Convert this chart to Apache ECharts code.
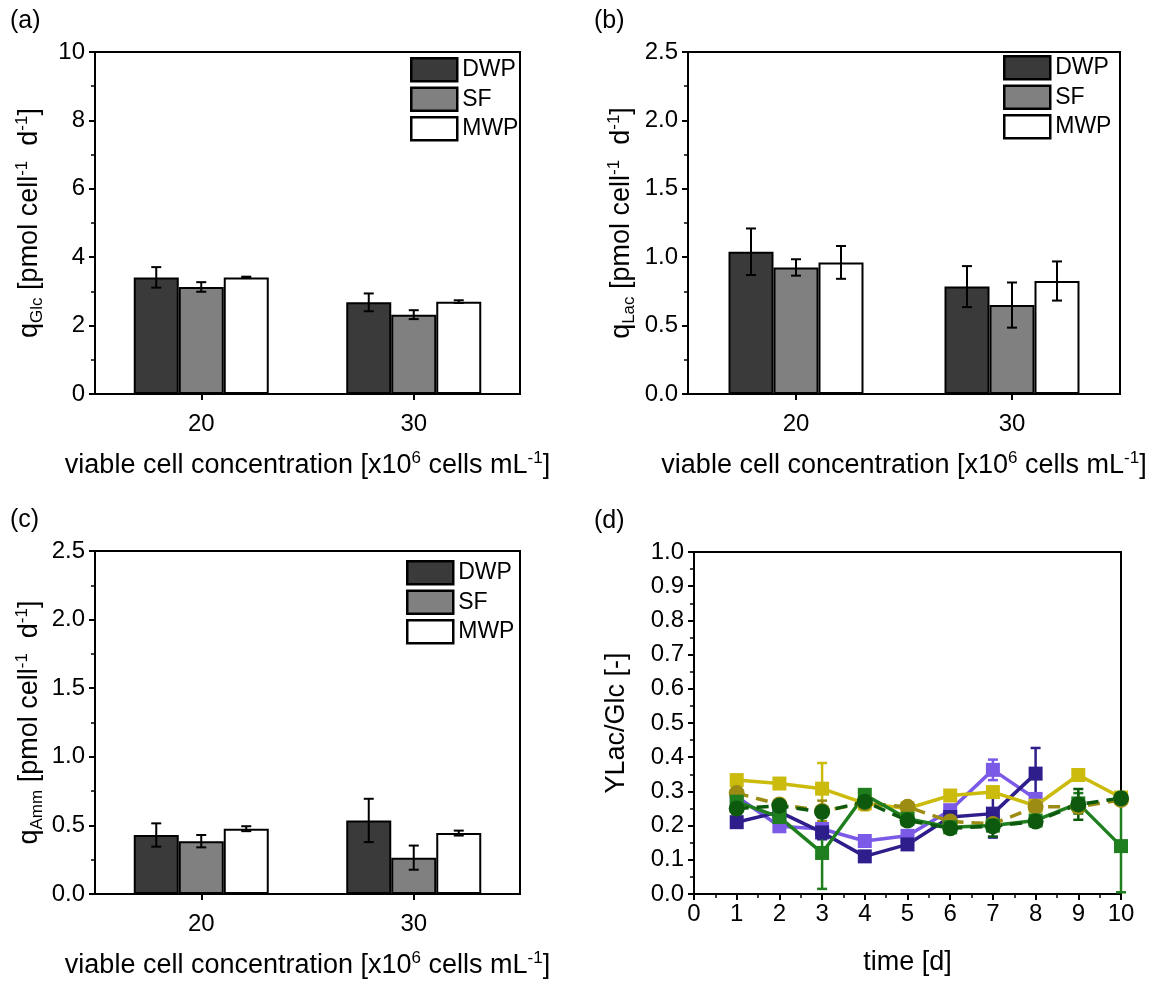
<!DOCTYPE html>
<html>
<head>
<meta charset="utf-8">
<script src="https://cdn.jsdelivr.net/npm/echarts@6/dist/echarts.min.js"></script>
<style>
  html, body { margin: 0; padding: 0; background: #fff; }
  #main { width: 1156px; height: 984px; }
</style>
</head>
<body>
<div id="main"></div>
<script>
// ---- data ----
const concentrations = ['20', '30'];
const groups = ['DWP', 'SF', 'MWP'];

// (a) specific glucose uptake rate, pmol cell-1 d-1
const qGlcDWP = [3.41, 2.68];
const qGlcDWPErr = [0.30, 0.26];
const qGlcSF = [3.13, 2.32];
const qGlcSFErr = [0.14, 0.13];
const qGlcMWP = [3.41, 2.70];
const qGlcMWPErr = [0.02, 0.04];

// (b) specific lactate production rate
const qLacDWP = [1.04, 0.785];
const qLacDWPErr = [0.17, 0.15];
const qLacSF = [0.925, 0.65];
const qLacSFErr = [0.06, 0.165];
const qLacMWP = [0.962, 0.826];
const qLacMWPErr = [0.12, 0.143];

// (c) specific ammonium production rate
const qAmmDWP = [0.43, 0.536];
const qAmmDWPErr = [0.085, 0.158];
const qAmmSF = [0.385, 0.265];
const qAmmSFErr = [0.045, 0.088];
const qAmmMWP = [0.476, 0.444];
const qAmmMWPErr = [0.018, 0.018];

// (d) lactate/glucose yield over cultivation time
const days = [1, 2, 3, 4, 5, 6, 7, 8, 9, 10];
const yieldRun1 = [0.333, 0.323, 0.308, 0.265, 0.250, 0.288, 0.298, 0.258, 0.348, 0.282];
const yieldRun1Err = [0.015, 0.012, 0.075, 0.02, 0.015, 0.012, 0.015, 0.015, 0.015, 0.012];
const yieldRun2 = [0.295, 0.262, 0.243, 0.265, 0.255, 0.212, 0.205, 0.255, 0.255, 0.275];
const yieldRun2Err = [0.015, 0.012, 0.03, 0.012, 0.012, 0.01, 0.012, 0.012, 0.012, 0.012];
const yieldRun3 = [0.285, 0.198, 0.190, 0.155, 0.170, 0.245, 0.363, 0.278];
const yieldRun3Err = [0.01, 0.012, 0.012, 0.01, 0.01, 0.01, 0.03, 0.015];
const yieldRun4 = [0.210, 0.240, 0.180, 0.110, 0.145, 0.225, 0.235, 0.352];
const yieldRun4Err = [0.012, 0.01, 0.02, 0.015, 0.01, 0.01, 0.07, 0.075];
const yieldRun5 = [0.270, 0.225, 0.120, 0.290, 0.220, 0.195, 0.200, 0.215, 0.265, 0.140];
const yieldRun5Err = [0.03, 0.015, 0.105, 0.015, 0.015, 0.01, 0.01, 0.015, 0.03, 0.135];
const yieldRun6 = [0.250, 0.258, 0.240, 0.270, 0.215, 0.192, 0.198, 0.212, 0.262, 0.280];
const yieldRun6Err = [0.015, 0.01, 0.015, 0.01, 0.01, 0.01, 0.03, 0.01, 0.045, 0.01];

// ---- styling helpers ----
const FONT = 'Liberation Sans, Arial, sans-serif';
const TICK_FS = 24;
const NAME_FS = 27;
const SMALL_FS = 17;
const BAR_W = 45;
const barFill = { DWP: '#3a3a3a', SF: '#808080', MWP: '#ffffff' };

const nameRich = {
  n: { fontSize: NAME_FS, fontFamily: FONT, color: '#000', lineHeight: 32 },
  s: { fontSize: SMALL_FS, fontFamily: FONT, color: '#000', lineHeight: 17, verticalAlign: 'bottom' },
  p: { fontSize: SMALL_FS, fontFamily: FONT, color: '#000', lineHeight: 17, verticalAlign: 'top' }
};

const blackLine = { color: '#000', width: 2 };

function valueYAxis(grid, max, interval, name, gap, decimals) {
  return {
    gridIndex: grid, type: 'value', min: 0, max: max, interval: interval,
    axisLine: { show: true, lineStyle: blackLine },
    axisTick: { show: true, inside: false, length: 6, lineStyle: blackLine },
    minorTick: { show: true, splitNumber: 2, length: 4, lineStyle: { color: '#000', width: 1.5 } },
    splitLine: { show: false },
    axisLabel: {
      color: '#000', fontSize: TICK_FS, fontFamily: FONT, margin: 10,
      formatter: v => decimals ? v.toFixed(decimals) : String(v)
    },
    name: name, nameLocation: 'middle', nameGap: gap, nameRotate: 90,
    nameMoveOverlap: false,
    nameTextStyle: { rich: nameRich }
  };
}

function categoryXAxis(grid, name) {
  return {
    gridIndex: grid, type: 'category', data: concentrations,
    axisLine: { show: true, lineStyle: blackLine },
    axisTick: { show: true, alignWithLabel: true, inside: false, length: 6, lineStyle: blackLine },
    axisLabel: { color: '#000', fontSize: TICK_FS, fontFamily: FONT, margin: 18 },
    name: name, nameLocation: 'middle', nameGap: 56, nameMoveOverlap: false,
    nameTextStyle: { rich: nameRich }
  };
}

function errRenderer(offsetIndex, color, cap, width) {
  return function (params, api) {
    const x = api.value(0), m = api.value(1), e = api.value(2);
    const hi = api.coord([x, m + e]);
    const lo = api.coord([x, m - e]);
    const cx = hi[0] + offsetIndex * BAR_W;
    const st = { stroke: color, lineWidth: width };
    return {
      type: 'group',
      children: [
        { type: 'line', shape: { x1: cx, y1: hi[1], x2: cx, y2: lo[1] }, style: st },
        { type: 'line', shape: { x1: cx - cap, y1: hi[1], x2: cx + cap, y2: hi[1] }, style: st },
        { type: 'line', shape: { x1: cx - cap, y1: lo[1], x2: cx + cap, y2: lo[1] }, style: st }
      ]
    };
  };
}

function barSeries(grid, means, errs) {
  const out = [];
  groups.forEach((g, i) => {
    out.push({
      type: 'bar', name: g, xAxisIndex: grid, yAxisIndex: grid,
      data: means[i], barWidth: BAR_W, barGap: '0%',
      itemStyle: { color: barFill[g], borderColor: '#000', borderWidth: 2 },
      emphasis: { disabled: true }
    });
  });
  groups.forEach((g, i) => {
    out.push({
      type: 'custom', name: g + ' sd', xAxisIndex: grid, yAxisIndex: grid, z: 5,
      renderItem: errRenderer(i - 1, '#000', 5, 2),
      data: means[i].map((m, k) => [k, m, errs[i][k]])
    });
  });
  return out;
}

function barLegend(left, top) {
  return {
    data: groups, orient: 'vertical', left: left, top: top, padding: 0,
    icon: 'rect', itemWidth: 46, itemHeight: 23, itemGap: 4,
    itemStyle: { borderColor: '#000', borderWidth: 2.5 },
    textStyle: { color: '#000', fontSize: 23, fontFamily: FONT },
    selectedMode: false
  };
}

// (d) line series definitions
const yieldRuns = [
  { data: yieldRun3, err: yieldRun3Err, color: '#7a5ae6', symbol: 'rect', dash: 'solid' },
  { data: yieldRun4, err: yieldRun4Err, color: '#2e1e8c', symbol: 'rect', dash: 'solid' },
  { data: yieldRun1, err: yieldRun1Err, color: '#cbbb0c', symbol: 'rect', dash: 'solid' },
  { data: yieldRun2, err: yieldRun2Err, color: '#9c8c14', symbol: 'circle', dash: [12, 8] },
  { data: yieldRun5, err: yieldRun5Err, color: '#1f7f1f', symbol: 'rect', dash: 'solid' },
  { data: yieldRun6, err: yieldRun6Err, color: '#0d5a0e', symbol: 'circle', dash: [12, 8] }
];

const yieldSeries = [];
yieldRuns.forEach((r, i) => {
  yieldSeries.push({
    type: 'custom', name: 'run' + i + ' sd', xAxisIndex: 3, yAxisIndex: 3, z: 3,
    renderItem: errRenderer(0, r.color, 5, 2.5),
    data: r.data.map((v, k) => [days[k], v, r.err[k]])
  });
  yieldSeries.push({
    type: 'line', name: 'run' + i, xAxisIndex: 3, yAxisIndex: 3, z: 4,
    data: r.data.map((v, k) => [days[k], v]),
    symbol: r.symbol, symbolSize: r.symbol === 'rect' ? 14 : 16,
    lineStyle: { color: r.color, width: 3.5, type: r.dash },
    itemStyle: { color: r.color },
    emphasis: { disabled: true }
  });
});

const chart = echarts.init(document.getElementById('main'), null, { renderer: 'canvas' });

const gridBase = { show: true, borderColor: '#000', borderWidth: 2, backgroundColor: 'transparent', containLabel: false, outerBoundsMode: 'none' };

chart.setOption({
  animation: false,
  backgroundColor: '#fff',
  graphic: [
    { type: 'text', left: 10, top: 9, style: { text: '(a)', fontSize: 25, fontFamily: FONT, fill: '#000' } },
    { type: 'text', left: 594, top: 9, style: { text: '(b)', fontSize: 25, fontFamily: FONT, fill: '#000' } },
    { type: 'text', left: 10, top: 508, style: { text: '(c)', fontSize: 25, fontFamily: FONT, fill: '#000' } },
    { type: 'text', left: 594, top: 509, style: { text: '(d)', fontSize: 25, fontFamily: FONT, fill: '#000' } }
  ],
  grid: [
    Object.assign({ left: 95, top: 52, width: 425, height: 342 }, gridBase),
    Object.assign({ left: 688, top: 52, width: 432, height: 342 }, gridBase),
    Object.assign({ left: 95, top: 551, width: 425, height: 343 }, gridBase),
    Object.assign({ left: 694, top: 552, width: 427, height: 342 }, gridBase)
  ],
  legend: [
    barLegend(410, 57),
    barLegend(1003, 55),
    barLegend(406, 560)
  ],
  xAxis: [
    categoryXAxis(0, '{n|viable cell concentration [x10}{p|6}{n| cells mL}{p|-1}{n|]}'),
    categoryXAxis(1, '{n|viable cell concentration [x10}{p|6}{n| cells mL}{p|-1}{n|]}'),
    categoryXAxis(2, '{n|viable cell concentration [x10}{p|6}{n| cells mL}{p|-1}{n|]}'),
    {
      gridIndex: 3, type: 'value', min: 0, max: 10, interval: 1,
      axisLine: { show: true, lineStyle: blackLine },
      axisTick: { show: true, inside: false, length: 6, lineStyle: blackLine },
      minorTick: { show: true, splitNumber: 2, length: 4, lineStyle: { color: '#000', width: 1.5 } },
      splitLine: { show: false },
      axisLabel: { color: '#000', fontSize: TICK_FS, fontFamily: FONT, margin: 8 },
      name: '{n|time [d]}', nameLocation: 'middle', nameGap: 53, nameMoveOverlap: false,
      nameTextStyle: { rich: nameRich }
    }
  ],
  yAxis: [
    valueYAxis(0, 10, 2, '{n|q}{s|Glc}{n| [pmol cell}{p|-1}{n|  d}{p|-1}{n|]}', 49, 0),
    valueYAxis(1, 2.5, 0.5, '{n|q}{s|Lac}{n| [pmol cell}{p|-1}{n|  d}{p|-1}{n|]}', 50, 1),
    valueYAxis(2, 2.5, 0.5, '{n|q}{s|Amm}{n| [pmol cell}{p|-1}{n|  d}{p|-1}{n|]}', 49, 1),
    valueYAxis(3, 1, 0.1, '{n|YLac/Glc [-]}', 61, 1)
  ],
  series: [].concat(
    barSeries(0, [qGlcDWP, qGlcSF, qGlcMWP], [qGlcDWPErr, qGlcSFErr, qGlcMWPErr]),
    barSeries(1, [qLacDWP, qLacSF, qLacMWP], [qLacDWPErr, qLacSFErr, qLacMWPErr]),
    barSeries(2, [qAmmDWP, qAmmSF, qAmmMWP], [qAmmDWPErr, qAmmSFErr, qAmmMWPErr]),
    yieldSeries
  )
});
</script>
</body>
</html>
